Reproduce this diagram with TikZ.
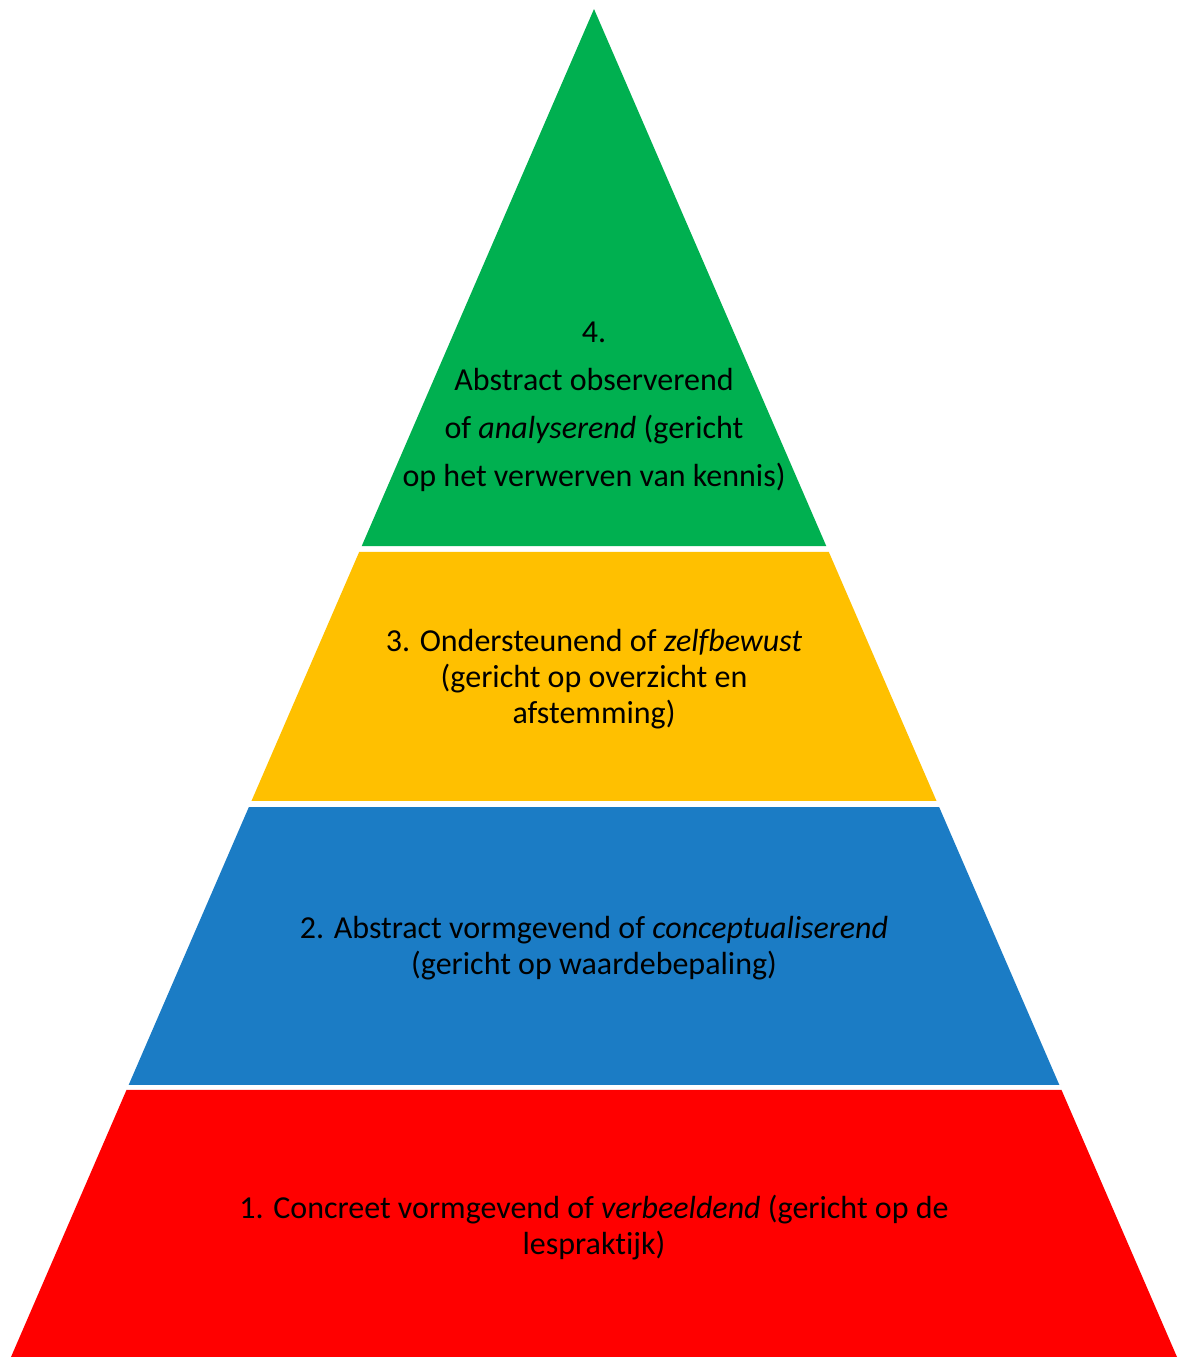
\documentclass[tikz,border=0pt]{standalone}
\usepackage{fontspec}
\setmainfont{Carlito}[Ligatures={NoCommon}]
\usetikzlibrary{calc}
\definecolor{pgreen}{HTML}{00B050}
\definecolor{pyellow}{HTML}{FFC000}
\definecolor{pblue}{HTML}{1B7CC5}
\definecolor{pred}{HTML}{FF0000}
\tikzset{
  lbl/.style={align=center, text=black, inner sep=0pt},
}
\begin{document}
\begin{tikzpicture}[x=1pt,y=-1pt]
\useasboundingbox (0,0) rectangle (1186,1357);
\coordinate (A) at (594,9);
\coordinate (L) at (11,1357);
\coordinate (R) at (1177,1357);
% green band
\fill[pgreen] (A) -- ($(A)!0.3984!(R)$) -- ($(A)!0.3984!(L)$) -- cycle;
% yellow band
\fill[pyellow] ($(A)!0.4028!(L)$) -- ($(A)!0.4028!(R)$) -- ($(A)!0.5875!(R)$) -- ($(A)!0.5875!(L)$) -- cycle;
% blue band
\fill[pblue] ($(A)!0.5920!(L)$) -- ($(A)!0.5920!(R)$) -- ($(A)!0.7982!(R)$) -- ($(A)!0.7982!(L)$) -- cycle;
% red band
\fill[pred] ($(A)!0.8019!(L)$) -- ($(A)!0.8019!(R)$) -- (R) -- (L) -- cycle;

\node[lbl, font=\fontsize{32}{48}\selectfont] (t4) at (594,407)
  {4.\\Abstract observerend\\of \textit{analyserend} (gericht\\op het verwerven van kennis)};
\node[lbl, font=\fontsize{32}{36}\selectfont] (t3) at (594,679)
  {3. Ondersteunend of \textit{zelfbewust}\\(gericht op overzicht en\\afstemming)};
\node[lbl, font=\fontsize{32}{36}\selectfont] (t2) at (594,948)
  {2. Abstract vormgevend of \textit{conceptualiserend}\\(gericht op waardebepaling)};
\node[lbl, font=\fontsize{32}{36}\selectfont] (t1) at (594,1228)
  {1. Concreet vormgevend of \textit{verbeeldend} (gericht op de\\lespraktijk)};
\end{tikzpicture}
\end{document}
